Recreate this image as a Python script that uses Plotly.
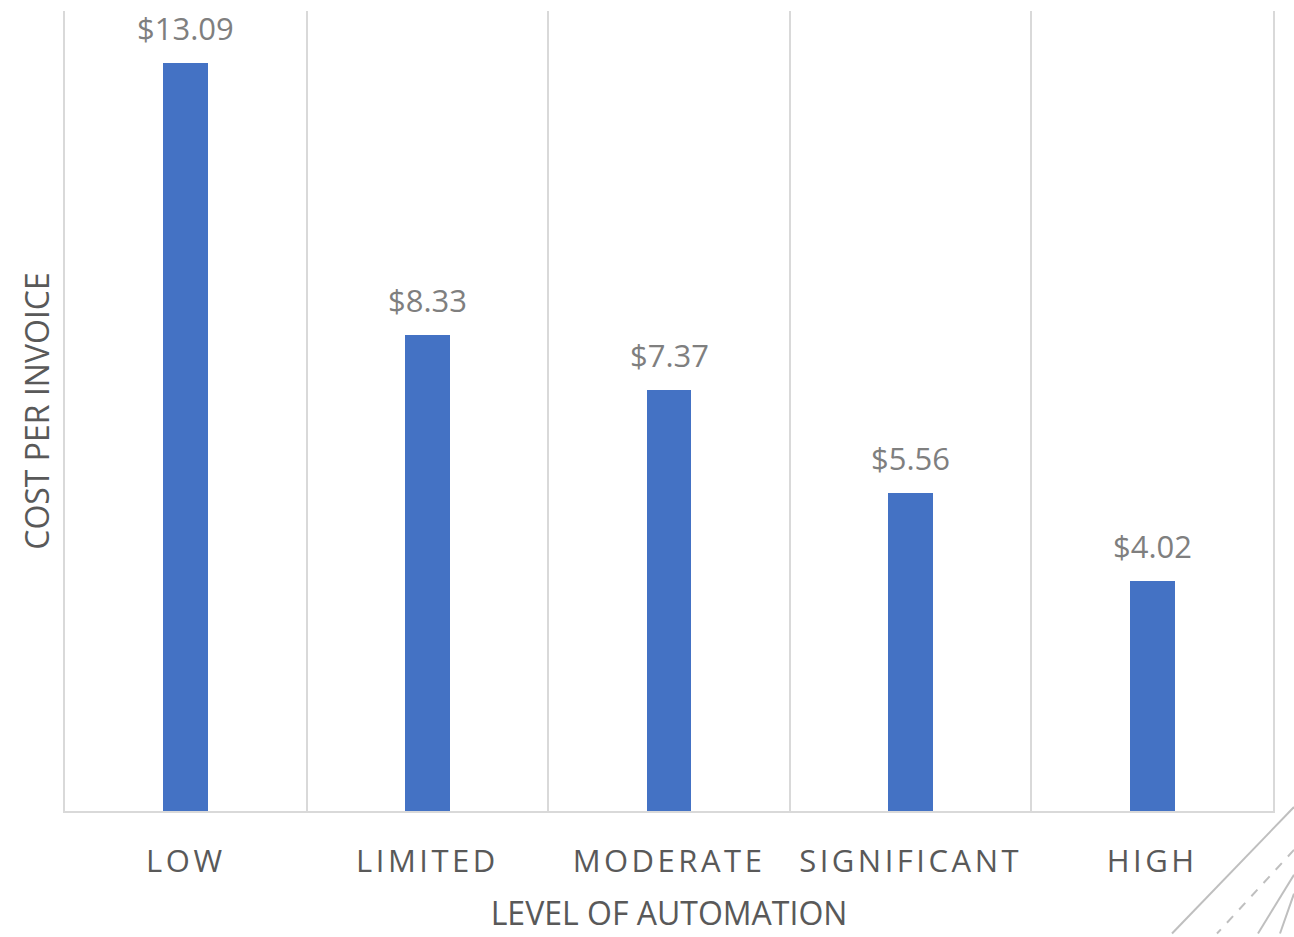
import plotly.graph_objects as go

# Cost per invoice by level of automation
levels = ["LOW", "LIMITED", "MODERATE", "SIGNIFICANT", "HIGH"]
cost_per_invoice = [13.09, 8.33, 7.37, 5.56, 4.02]

BAR_COLOR = "#4472C4"
GRID_COLOR = "#D9D9D9"
LABEL_COLOR = "#7F7F7F"
AXIS_TEXT = "#595959"
FONT = "Open Sans"

W, H = 1294, 937
M_L, M_R, M_T, M_B = 65, 21, 11, 123

fig = go.Figure()
fig.add_trace(go.Bar(
    x=levels,
    y=cost_per_invoice,
    width=0.186,
    marker=dict(color=BAR_COLOR, line=dict(width=0)),
    hoverinfo="x+y",
))

# value labels above each bar
for lvl, v in zip(levels, cost_per_invoice):
    fig.add_annotation(
        x=lvl, y=v, text=f"${v:.2f}", showarrow=False,
        yanchor="bottom", yshift=12,
        font=dict(family=FONT, size=31, color=LABEL_COLOR),
    )

# decorative diagonal strokes in the lower-right corner
def px_to_paper(px, py):
    pw = W - M_L - M_R
    ph = H - M_T - M_B
    return (px - M_L) / pw, (H - M_B - py) / ph

strokes = [
    ((1294, 810), (1172, 937), "solid"),
    ((1294, 853), (1217, 937), "dash"),
    ((1294, 878), (1258, 937), "solid"),
    ((1294, 897), (1280, 937), "solid"),
]
for (x0, y0), (x1, y1), dash in strokes:
    a0, b0 = px_to_paper(x0, y0)
    a1, b1 = px_to_paper(x1, y1)
    fig.add_shape(type="line", xref="paper", yref="paper",
                  x0=a0, y0=b0, x1=a1, y1=b1,
                  line=dict(color="#BFBFBF", width=2, dash=dash),
                  layer="below")

fig.update_layout(
    width=W, height=H,
    margin=dict(l=M_L, r=M_R, t=M_T, b=M_B),
    paper_bgcolor="white", plot_bgcolor="white",
    showlegend=False,
    font=dict(family=FONT, color=AXIS_TEXT),
    bargap=0.0,
)
fig.update_xaxes(
    type="category",
    tickson="boundaries",
    showgrid=True, gridcolor=GRID_COLOR, gridwidth=2,
    showline=True, linecolor=GRID_COLOR, linewidth=2,
    ticks="", ticklabelstandoff=22,
    tickfont=dict(family=FONT, size=31, color=AXIS_TEXT),
    title=dict(text="LEVEL OF AUTOMATION", standoff=22,
               font=dict(family=FONT, size=32, color=AXIS_TEXT)),
    range=[-0.5, 4.5],
)
fig.update_yaxes(
    range=[0, 14],
    showgrid=False, zeroline=False,
    showticklabels=False, ticks="",
    showline=True, linecolor=GRID_COLOR, linewidth=2, mirror=True,
    title=dict(text="COST PER INVOICE", standoff=4,
               font=dict(family=FONT, size=32, color=AXIS_TEXT)),
)

# wider tracking on the category labels
post = """
document.querySelectorAll('.xtick text').forEach(function(t){
  t.style.letterSpacing = '3.5px';
});
"""
fig.write_html("out.html", post_script=post)
